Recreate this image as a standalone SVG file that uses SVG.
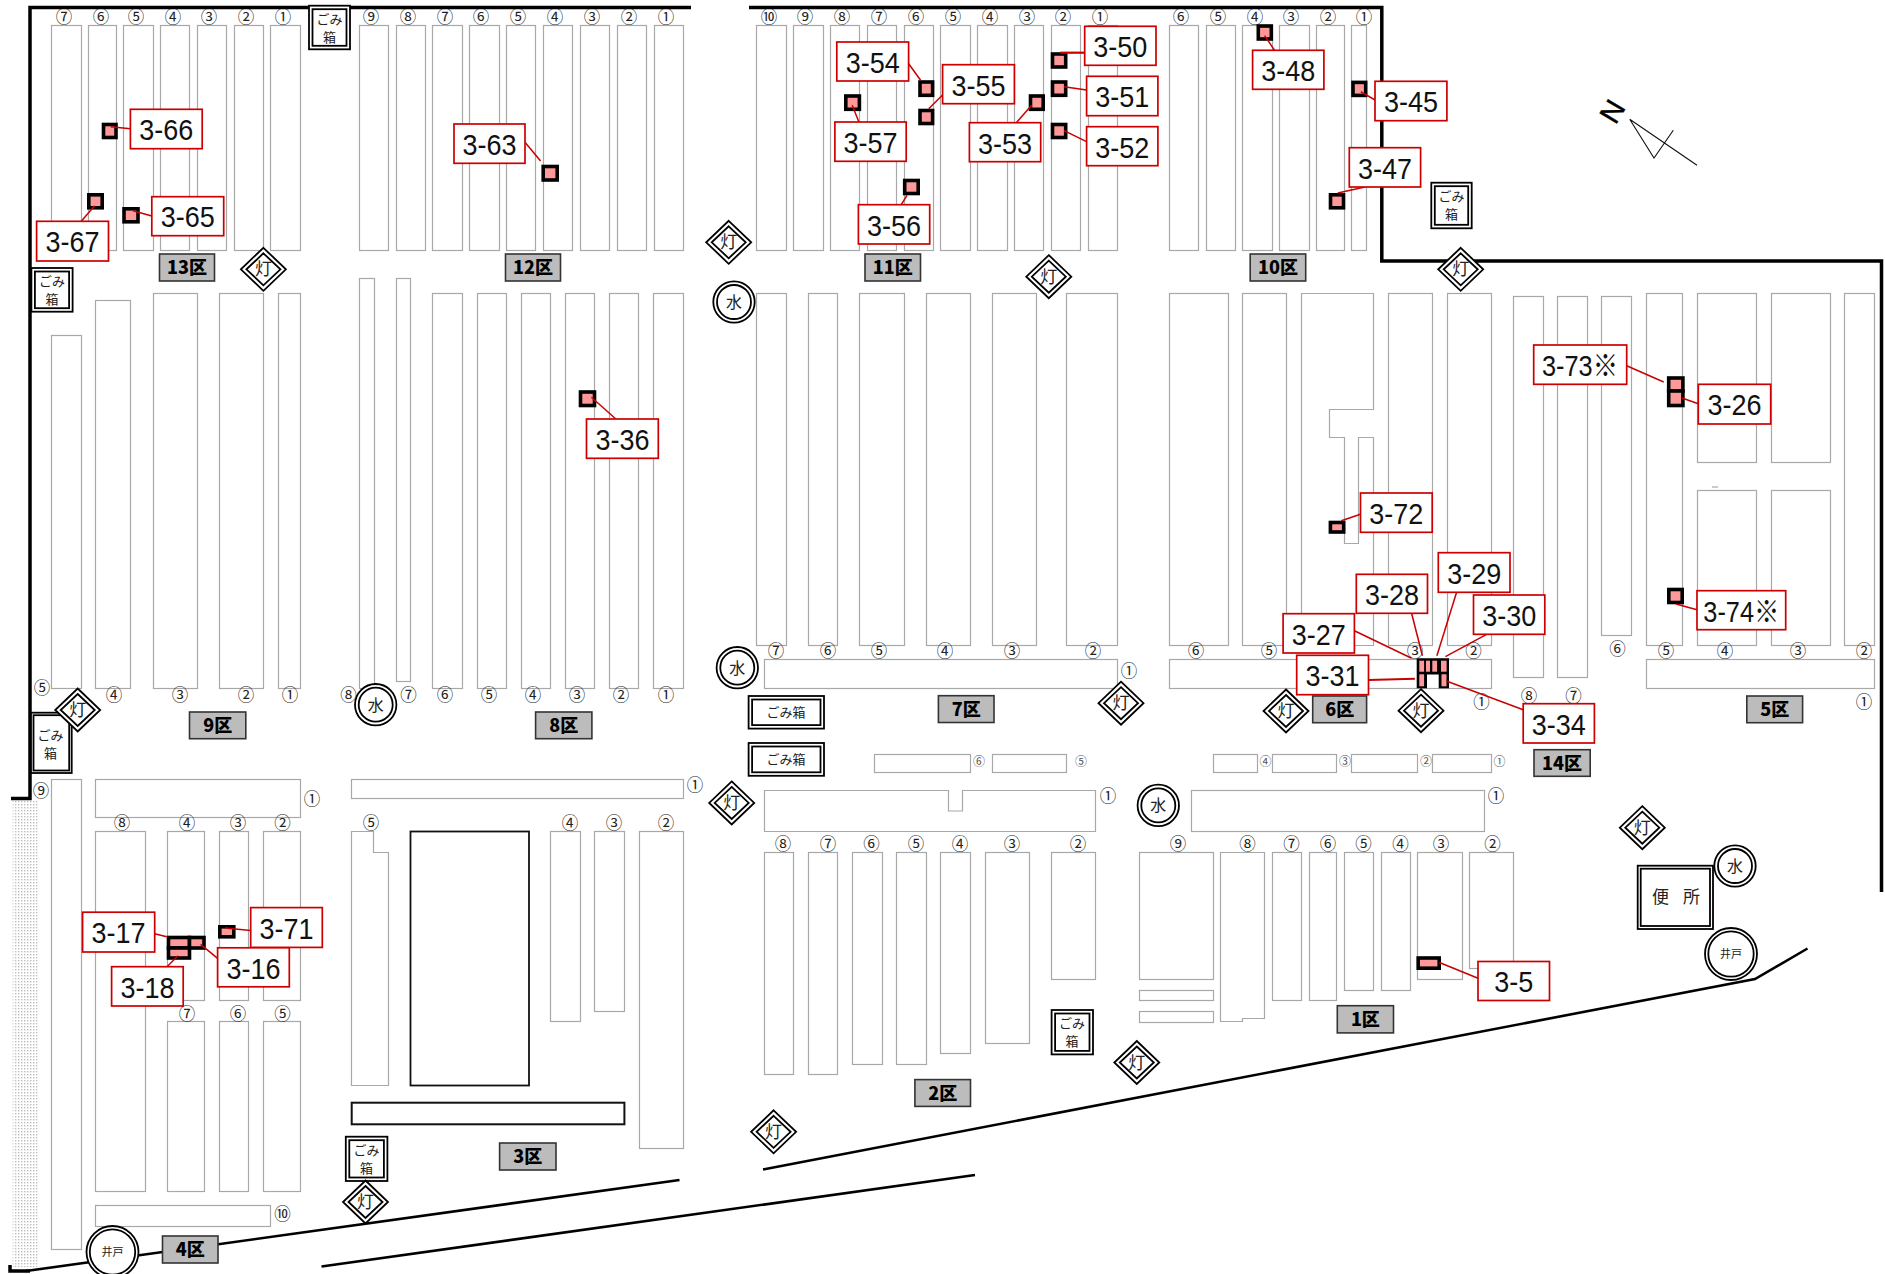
<svg xmlns="http://www.w3.org/2000/svg" width="1885" height="1274" viewBox="0 0 1885 1274">
<style>
text{font-family:"Liberation Sans","Noto Sans CJK JP",sans-serif;text-anchor:middle}
.p rect,.p path{fill:#fff;stroke:#a8a8a8;stroke-width:1.2}
.n text{font-family:"Noto Sans CJK JP",sans-serif;font-size:16.5px;fill:#222;transform:translateY(1px)}
.s text{font-family:"Noto Sans CJK JP",sans-serif;font-size:12px;fill:#555}
.w{fill:none;stroke:#000;stroke-width:3.5}
.r{fill:none;stroke:#000;stroke-width:2.6}
.m{fill:#ff9999;stroke:#000;stroke-width:3.6}
.l{stroke:#c80000;stroke-width:1.5;fill:none}
.b{fill:#fff;stroke:#cc0000;stroke-width:1.7}
.t{font-size:30px;fill:#111;transform:translateY(1px)}
.z rect{fill:#bcbcbc;stroke:#333;stroke-width:1.6}
.z text{font-family:"Noto Sans CJK JP",sans-serif;font-size:18px;font-weight:900;fill:#000}
.d{fill:#fff;stroke:#000;stroke-width:1.8}
.j{font-family:"Noto Sans CJK JP",sans-serif;fill:#222}
.o{fill:none;stroke:#000;stroke-width:1.8}
</style>
<defs>
<pattern id="dots" width="3" height="3" patternUnits="userSpaceOnUse"><rect width="1.4" height="1.4" fill="#bdbdbd"/></pattern>
<g id="lamp"><polygon class="d" points="0,-21.5 22.5,0 0,21.5 -22.5,0"/><polygon class="o" points="0,-16 17,0 0,16 -17,0"/></g>
<g id="water"><circle class="d" r="20.7"/><circle class="o" r="17"/></g>
<g id="well"><circle class="d" r="26"/><circle class="o" r="22.7"/></g>
</defs>
<rect width="1885" height="1274" fill="#fff"/>
<rect x="12.7" y="800" width="25" height="467" fill="url(#dots)"/>

<g id="plots" class="p">
<rect x="51.5" y="25.5" width="30" height="225"/><rect x="88.5" y="25.5" width="28" height="225"/><rect x="123.5" y="25.5" width="30" height="225"/><rect x="160.5" y="25.5" width="29" height="225"/><rect x="197.5" y="25.5" width="29" height="225"/><rect x="234.5" y="25.5" width="29" height="225"/><rect x="270.5" y="25.5" width="30" height="225"/>
<rect x="359.5" y="25.5" width="29" height="225"/><rect x="396.5" y="25.5" width="29" height="225"/><rect x="432.5" y="25.5" width="30" height="225"/><rect x="469.5" y="25.5" width="30" height="225"/><rect x="506.5" y="25.5" width="29" height="225"/><rect x="543.5" y="25.5" width="29" height="225"/><rect x="580.5" y="25.5" width="29" height="225"/><rect x="617.5" y="25.5" width="29" height="225"/><rect x="654.5" y="25.5" width="29" height="225"/>
<rect x="756.5" y="25.5" width="30" height="225"/><rect x="793.5" y="25.5" width="30" height="225"/><rect x="830.5" y="25.5" width="29" height="225"/><rect x="867.5" y="25.5" width="29" height="225"/><rect x="904.5" y="25.5" width="29" height="225"/><rect x="940.5" y="25.5" width="30" height="225"/><rect x="977.5" y="25.5" width="30" height="225"/><rect x="1014.5" y="25.5" width="29" height="225"/><rect x="1051.5" y="25.5" width="29" height="225"/><rect x="1088.5" y="25.5" width="29" height="225"/>
<rect x="1169.5" y="25.5" width="29" height="225"/><rect x="1206.5" y="25.5" width="29" height="225"/><rect x="1242.5" y="25.5" width="30" height="225"/><rect x="1279.5" y="25.5" width="30" height="225"/><rect x="1316.5" y="25.5" width="28" height="225"/><rect x="1351.5" y="25.5" width="15" height="225"/>

<rect x="51.5" y="335.5" width="30" height="353"/><rect x="95.5" y="300.5" width="35" height="388"/><rect x="153.5" y="293.5" width="44" height="395"/><rect x="219.5" y="293.5" width="44" height="395"/><rect x="278.5" y="293.5" width="22" height="395"/>
<rect x="359.5" y="278.5" width="15" height="410"/><rect x="396.5" y="278.5" width="14" height="403"/><rect x="432.5" y="293.5" width="30" height="395"/><rect x="477.5" y="293.5" width="29" height="395"/><rect x="521.5" y="293.5" width="29" height="395"/><rect x="565.5" y="293.5" width="29" height="395"/><rect x="609.5" y="293.5" width="29" height="395"/><rect x="653.5" y="293.5" width="30" height="395"/>

<rect x="756.5" y="293.5" width="30" height="352"/><rect x="808.5" y="293.5" width="29" height="352"/><rect x="859.5" y="293.5" width="45" height="352"/><rect x="926.5" y="293.5" width="44" height="352"/><rect x="992.5" y="293.5" width="44" height="352"/><rect x="1066.5" y="293.5" width="51" height="352"/>
<rect x="1169.5" y="293.5" width="59" height="352"/><rect x="1242.5" y="293.5" width="44" height="352"/>
<path d="M1301.5 293.5V645.5H1373.5V437.5H1358.5V543.5H1344.5V437.5H1329.5V409.5H1373.5V293.5Z"/>
<rect x="1388.5" y="293.5" width="44" height="352"/><rect x="1447.5" y="293.5" width="44" height="352"/>
<rect x="1513.5" y="296.5" width="30" height="381"/><rect x="1557.5" y="296.5" width="30" height="381"/><rect x="1601.5" y="296.5" width="30" height="339"/>
<rect x="1646.5" y="293.5" width="36" height="352"/>
<rect x="1697.5" y="293.5" width="59" height="169"/><rect x="1771.5" y="293.5" width="59" height="169"/><rect x="1697.5" y="490.5" width="59" height="155"/><rect x="1771.5" y="490.5" width="59" height="155"/>
<rect x="1844.5" y="293.5" width="30" height="352"/>
<path d="M1712 487h6"/>

<rect x="764.5" y="659.5" width="353" height="29"/><rect x="1169.5" y="659.5" width="322" height="29"/><rect x="1646.5" y="659.5" width="228" height="29"/>
<rect x="874.5" y="754.5" width="96" height="18"/><rect x="992.5" y="754.5" width="74" height="18"/><rect x="1213.5" y="754.5" width="44" height="18"/><rect x="1272.5" y="754.5" width="64" height="18"/><rect x="1351.5" y="754.5" width="66" height="18"/><rect x="1432.5" y="754.5" width="59" height="18"/>
<path d="M764.5 790.5H948.5V811H962.5V790.5H1095.5V831.5H764.5Z"/>
<rect x="1191.5" y="790.5" width="293" height="41"/>
<rect x="764.5" y="852.5" width="29" height="222"/><rect x="808.5" y="852.5" width="29" height="222"/><rect x="852.5" y="852.5" width="30" height="212"/><rect x="896.5" y="852.5" width="30" height="212"/><rect x="940.5" y="852.5" width="30" height="201"/><rect x="985.5" y="852.5" width="44" height="191"/><rect x="1051.5" y="852.5" width="44" height="127"/>
<rect x="1139.5" y="852.5" width="74" height="127"/><rect x="1139.5" y="990.5" width="74" height="10"/><rect x="1139.5" y="1011.5" width="74" height="11"/>
<path d="M1220.5 852.5H1264.5V1018.5H1242.5V1021.5H1220.5Z"/>
<rect x="1272.5" y="852.5" width="29" height="148"/><rect x="1309.5" y="852.5" width="27" height="148"/><rect x="1344.5" y="852.5" width="29" height="138"/><rect x="1381.5" y="852.5" width="29" height="138"/><rect x="1417.5" y="852.5" width="45" height="127"/><rect x="1469.5" y="852.5" width="44" height="116"/>

<rect x="51.5" y="779.5" width="30" height="470"/><rect x="95.5" y="779.5" width="205" height="38"/><rect x="95.5" y="831.5" width="50" height="360"/><rect x="167.5" y="831.5" width="37" height="169"/><rect x="219.5" y="831.5" width="29" height="169"/><rect x="263.5" y="831.5" width="37" height="169"/><rect x="167.5" y="1021.5" width="37" height="170"/><rect x="219.5" y="1021.5" width="29" height="170"/><rect x="263.5" y="1021.5" width="37" height="170"/><rect x="95.5" y="1205.5" width="175" height="21"/>
<rect x="351.5" y="779.5" width="332" height="19"/>
<path d="M351.5 831.5H373.5V852.5H388.5V1085.5H351.5Z"/>
<rect x="550.5" y="831.5" width="30" height="190"/><rect x="594.5" y="831.5" width="30" height="180"/><rect x="639.5" y="831.5" width="44" height="317"/>
</g>
<g id="buildings">
<rect x="410.5" y="831.5" width="118.5" height="254" fill="#fff" stroke="#111" stroke-width="1.8"/>
<rect x="351.7" y="1102.7" width="272.7" height="21.6" fill="#fff" stroke="#111" stroke-width="2"/>
</g>

<g id="plot-numbers" class="n">
<text x="64" y="22">⑦</text><text x="101" y="22">⑥</text><text x="136" y="22">⑤</text><text x="173" y="22">④</text><text x="209" y="22">③</text><text x="246" y="22">②</text><text x="283" y="22">①</text>
<text x="371" y="22">⑨</text><text x="408" y="22">⑧</text><text x="445" y="22">⑦</text><text x="481" y="22">⑥</text><text x="518" y="22">⑤</text><text x="555" y="22">④</text><text x="592" y="22">③</text><text x="629" y="22">②</text><text x="666" y="22">①</text>
<text x="769" y="22">⑩</text><text x="805" y="22">⑨</text><text x="842" y="22">⑧</text><text x="879" y="22">⑦</text><text x="916" y="22">⑥</text><text x="953" y="22">⑤</text><text x="990" y="22">④</text><text x="1027" y="22">③</text><text x="1063" y="22">②</text><text x="1100" y="22">①</text>
<text x="1181" y="22">⑥</text><text x="1218" y="22">⑤</text><text x="1255" y="22">④</text><text x="1291" y="22">③</text><text x="1328" y="22">②</text><text x="1364" y="22">①</text>
<text x="42" y="693">⑤</text><text x="114" y="700">④</text><text x="180" y="700">③</text><text x="246" y="700">②</text><text x="290" y="700">①</text><text x="348.5" y="700">⑧</text><text x="408.5" y="700">⑦</text><text x="445" y="700">⑥</text><text x="489" y="700">⑤</text><text x="533" y="700">④</text><text x="577" y="700">③</text><text x="621" y="700">②</text><text x="666" y="700">①</text>
<text x="776" y="656">⑦</text><text x="828" y="656">⑥</text><text x="879" y="656">⑤</text><text x="945" y="656">④</text><text x="1012" y="656">③</text><text x="1093" y="656">②</text><text x="1129" y="676">①</text>
<text x="1196" y="656">⑥</text><text x="1269" y="656">⑤</text><text x="1415" y="656">③</text><text x="1473.5" y="656">②</text><text x="1481.5" y="707">①</text>
<text x="1529" y="700.5">⑧</text><text x="1573.5" y="700.5">⑦</text><text x="1617.5" y="654">⑥</text><text x="1666" y="656">⑤</text><text x="1725" y="656">④</text><text x="1798" y="656">③</text><text x="1864" y="656">②</text><text x="1864" y="707">①</text>
<text x="1108" y="801">①</text><text x="1496" y="801">①</text>
<text x="783" y="849">⑧</text><text x="828" y="849">⑦</text><text x="871.5" y="849">⑥</text><text x="916" y="849">⑤</text><text x="960" y="849">④</text><text x="1012" y="849">③</text><text x="1078" y="849">②</text>
<text x="1178" y="849">⑨</text><text x="1247.5" y="849">⑧</text><text x="1291.5" y="849">⑦</text><text x="1328" y="849">⑥</text><text x="1363.5" y="849">⑤</text><text x="1400.5" y="849">④</text><text x="1441" y="849">③</text><text x="1492.5" y="849">②</text>
<text x="41" y="796">⑨</text><text x="312" y="804">①</text><text x="122" y="828">⑧</text><text x="187" y="828">④</text><text x="238" y="828">③</text><text x="282.5" y="828">②</text><text x="187" y="1019">⑦</text><text x="238" y="1019">⑥</text><text x="282.5" y="1019">⑤</text><text x="282.5" y="1219">⑩</text>
<text x="695" y="790">①</text><text x="371" y="828">⑤</text><text x="570" y="828">④</text><text x="614" y="828">③</text><text x="666" y="828">②</text>
</g>
<g id="small-numbers" class="s">
<text x="979" y="766">⑥</text><text x="1081" y="766">⑤</text><text x="1265.5" y="766">④</text><text x="1345" y="766">③</text><text x="1426" y="766">②</text><text x="1499.5" y="766">①</text>
</g>

<g id="walls-roads">
<path class="w" d="M691 7.5H30V798.5H11"/>
<path class="w" d="M749 7.5H1381.8V261H1881.5V892"/>
<path class="w" d="M10 1265V1271H30"/>
<path class="r" d="M26 1271L679.5 1180"/>
<path class="r" d="M321.5 1266.5L975 1175"/>
<path class="r" d="M763 1169.5L1755 979L1807.5 948.5"/>
</g>

<g id="compass">
<path d="M1629.7 119.3L1654 158L1673.3 130.3M1629.7 119.3L1697 165.3" fill="none" stroke="#111" stroke-width="1.1"/>
<text transform="translate(1612 111) rotate(-59)" y="10.5" font-size="29" fill="#000" stroke="#000" stroke-width=".5">N</text>
</g>

<g id="bins" >
<g id="bin-1"><rect x="309" y="5.7" width="41" height="43.6" class="d"/><rect x="312.5" y="9.2" width="34" height="36.6" class="o"/><text class="j" font-size="13" x="329.5" y="24">ごみ</text><text class="j" font-size="13" x="329.5" y="42">箱</text></g>
<g id="bin-2"><rect x="31.4" y="268" width="41.2" height="43.7" class="d"/><rect x="34.9" y="271.5" width="34.2" height="36.7" class="o"/><text class="j" font-size="13" x="52" y="286">ごみ</text><text class="j" font-size="13" x="52" y="304">箱</text></g>
<g id="bin-3"><rect x="31" y="712.7" width="40.7" height="60.3" class="d"/><rect x="33.5" y="715.2" width="35.7" height="55.3" class="o"/><text class="j" font-size="13" x="50.5" y="740">ごみ</text><text class="j" font-size="13" x="50.5" y="758">箱</text></g>
<g id="bin-4"><rect x="1431.3" y="182.7" width="40.4" height="45.6" class="d"/><rect x="1434.8" y="186.2" width="33.4" height="38.6" class="o"/><text class="j" font-size="13" x="1451.5" y="201">ごみ</text><text class="j" font-size="13" x="1451.5" y="219">箱</text></g>
<g id="bin-5"><rect x="748.6" y="696" width="75.4" height="32.6" class="d"/><rect x="752.1" y="699.5" width="68.4" height="25.6" class="o"/><text class="j" font-size="13" x="786" y="717">ごみ箱</text></g>
<g id="bin-6"><rect x="748.6" y="743" width="75.4" height="32.8" class="d"/><rect x="752.1" y="746.5" width="68.4" height="25.8" class="o"/><text class="j" font-size="13" x="786" y="764">ごみ箱</text></g>
<g id="bin-7"><rect x="1051.6" y="1010" width="41.4" height="44.4" class="d"/><rect x="1055.1" y="1013.5" width="34.4" height="37.4" class="o"/><text class="j" font-size="13" x="1072" y="1028">ごみ</text><text class="j" font-size="13" x="1072" y="1046">箱</text></g>
<g id="bin-8"><rect x="345.8" y="1136.7" width="41.6" height="44.3" class="d"/><rect x="349.3" y="1140.2" width="34.6" height="37.3" class="o"/><text class="j" font-size="13" x="366.5" y="1155">ごみ</text><text class="j" font-size="13" x="366.5" y="1173">箱</text></g>
</g>

<g id="toilet"><rect x="1637.7" y="865.7" width="75.3" height="63.3" class="d"/><rect x="1640.7" y="868.7" width="69.3" height="57.3" class="o"/><text class="j" font-size="17" x="1676" y="903" word-spacing="10">便 所</text></g>

<g id="lamps">
<g id="lamp-1" transform="translate(263.4 269.3)"><use href="#lamp"/><text class="j" font-size="17" y="6">灯</text></g>
<g id="lamp-2" transform="translate(77.7 710)"><use href="#lamp"/><text class="j" font-size="17" y="6">灯</text></g>
<g id="lamp-3" transform="translate(728.7 242.3)"><use href="#lamp"/><text class="j" font-size="17" y="6">灯</text></g>
<g id="lamp-4" transform="translate(1048.8 276.7)"><use href="#lamp"/><text class="j" font-size="17" y="6">灯</text></g>
<g id="lamp-5" transform="translate(1460.7 269.3)"><use href="#lamp"/><text class="j" font-size="17" y="6">灯</text></g>
<g id="lamp-6" transform="translate(1121 703.2)"><use href="#lamp"/><text class="j" font-size="17" y="6">灯</text></g>
<g id="lamp-7" transform="translate(1286 711)"><use href="#lamp"/><text class="j" font-size="17" y="6">灯</text></g>
<g id="lamp-8" transform="translate(1421 710.7)"><use href="#lamp"/><text class="j" font-size="17" y="6">灯</text></g>
<g id="lamp-9" transform="translate(731.7 802.9)"><use href="#lamp"/><text class="j" font-size="17" y="6">灯</text></g>
<g id="lamp-10" transform="translate(1136.8 1062.5)"><use href="#lamp"/><text class="j" font-size="17" y="6">灯</text></g>
<g id="lamp-11" transform="translate(773.6 1131.8)"><use href="#lamp"/><text class="j" font-size="17" y="6">灯</text></g>
<g id="lamp-12" transform="translate(365.5 1202)"><use href="#lamp"/><text class="j" font-size="17" y="6">灯</text></g>
<g id="lamp-13" transform="translate(1642.3 827.7)"><use href="#lamp"/><text class="j" font-size="17" y="6">灯</text></g>
</g>

<g id="taps">
<g id="water-1" transform="translate(375.7 704.7)"><use href="#water"/><text class="j" font-size="16" y="6">水</text></g>
<g id="water-2" transform="translate(734 302)"><use href="#water"/><text class="j" font-size="16" y="6">水</text></g>
<g id="water-3" transform="translate(737.3 667.7)"><use href="#water"/><text class="j" font-size="16" y="6">水</text></g>
<g id="water-4" transform="translate(1158.3 805.4)"><use href="#water"/><text class="j" font-size="16" y="6">水</text></g>
<g id="water-5" transform="translate(1735 866)"><use href="#water"/><text class="j" font-size="16" y="6">水</text></g>
<g id="well-1" transform="translate(112.5 1252)"><use href="#well"/><text class="j" font-size="11" y="4">井戸</text></g>
<g id="well-2" transform="translate(1731 954)"><use href="#well"/><text class="j" font-size="11" y="4">井戸</text></g>
</g>

<g id="zones" class="z">
<g id="zone-13"><rect x="159.5" y="254" width="55" height="27"/><text x="187" y="274">13区</text></g>
<g id="zone-12"><rect x="505.5" y="254" width="55" height="27"/><text x="533" y="274">12区</text></g>
<g id="zone-11"><rect x="865" y="254" width="55.5" height="27"/><text x="892.7" y="274">11区</text></g>
<g id="zone-10"><rect x="1250.2" y="254" width="55.5" height="27"/><text x="1278" y="274">10区</text></g>
<g id="zone-9"><rect x="189.5" y="712" width="56.3" height="26.7"/><text x="217.7" y="732">9区</text></g>
<g id="zone-8"><rect x="535.6" y="712" width="56.3" height="26.7"/><text x="563.7" y="732">8区</text></g>
<g id="zone-7"><rect x="938.4" y="695.7" width="55.6" height="26.8"/><text x="966.2" y="716">7区</text></g>
<g id="zone-6"><rect x="1312.7" y="696" width="53.9" height="26.7"/><text x="1339.7" y="716">6区</text></g>
<g id="zone-5"><rect x="1746.8" y="696" width="55.8" height="26.7"/><text x="1774.7" y="716">5区</text></g>
<g id="zone-14"><rect x="1534" y="749.7" width="56.2" height="26.6"/><text x="1562" y="770">14区</text></g>
<g id="zone-1"><rect x="1337.3" y="1005.7" width="56.2" height="27.2"/><text x="1365.4" y="1026">1区</text></g>
<g id="zone-2"><rect x="914.9" y="1079.6" width="55.6" height="26.8"/><text x="942.7" y="1100">2区</text></g>
<g id="zone-3"><rect x="499.6" y="1143" width="56.4" height="27"/><text x="527.8" y="1163">3区</text></g>
<g id="zone-4"><rect x="162.5" y="1236" width="55.5" height="27"/><text x="190.3" y="1256">4区</text></g>
</g>

<g id="markers">
<rect class="m" x="103.5" y="124.5" width="12.5" height="13"/>
<rect class="m" x="88.8" y="194.8" width="13.4" height="13"/>
<rect class="m" x="124" y="208.8" width="14" height="13"/>
<rect class="m" x="543.2" y="166.5" width="14" height="13.5"/>
<rect class="m" x="580.5" y="392" width="14" height="13.5"/>
<rect class="m" x="920" y="82" width="12.6" height="13.3"/>
<rect class="m" x="920" y="110.5" width="12.6" height="13"/>
<rect class="m" x="1052.5" y="54" width="13.2" height="13"/>
<rect class="m" x="1052.5" y="82" width="13.2" height="13.3"/>
<rect class="m" x="1052.5" y="124.5" width="13.2" height="13"/>
<rect class="m" x="1030.5" y="96" width="12.7" height="13.3"/>
<rect class="m" x="845.8" y="96" width="13.6" height="13.3"/>
<rect class="m" x="904.7" y="180.5" width="13.5" height="13"/>
<rect class="m" x="1258.3" y="26" width="13" height="13"/>
<rect class="m" x="1353" y="82.4" width="12.7" height="13"/>
<rect class="m" x="1330.5" y="194.8" width="13" height="13"/>
<rect class="m" x="1668.7" y="378" width="14.2" height="13"/>
<rect class="m" x="1668.7" y="391" width="14.2" height="14.5"/>
<rect class="m" x="1668.8" y="589.5" width="13.4" height="13"/>
<rect class="m" x="1330.4" y="522.5" width="13.3" height="9.5"/>
<rect class="m" x="1418.2" y="958" width="21" height="10.2"/>
<rect class="m" x="168.5" y="937.5" width="21" height="10.5"/>
<rect class="m" x="189.5" y="937.5" width="14.5" height="10.5"/>
<rect class="m" x="168.5" y="948" width="21" height="10"/>
<rect class="m" x="219.8" y="926.8" width="14" height="10"/>
<g id="marker-comb">
<path fill="#000" d="M1416.7 658.3H1449V688.3H1438.7V674.5H1427V688.3H1416.7Z"/>
<g fill="#ff9999"><rect x="1419.3" y="660.7" width="4.8" height="11"/><rect x="1426" y="660.7" width="4" height="11"/><rect x="1432.3" y="660.7" width="4.8" height="11"/><rect x="1441" y="660.7" width="5.6" height="11"/><rect x="1419.3" y="674.3" width="4.8" height="12"/><rect x="1441.5" y="674.3" width="5" height="12"/></g>
</g>
</g>

<g id="connectors" class="l">
<path d="M110.7 126.7L130.4 128.7"/><path d="M94.6 205.7L81.3 221.3"/><path d="M133 210.7L151.8 216"/><path d="M525 142.3L540.6 161"/><path d="M591.4 397.3L615.6 418.7"/>
<path d="M906.7 61L920.6 80.3"/><path d="M942.6 95L928.7 108.7"/><path d="M1060.3 52.7H1084.7" stroke-width="2.2"/><path d="M1064 86.7L1086.6 90"/><path d="M1064 130.7L1086.6 141.7"/><path d="M1031.6 105.3L1016.7 122.3"/><path d="M852.2 105.3L858.9 122"/><path d="M907 195.3L901.4 204.3"/><path d="M1264.6 35.7L1274.6 50.3"/><path d="M1360.8 91.7L1375 100"/><path d="M1337.8 193L1365 187"/>
<path d="M1626.7 365.7L1663.7 382"/><path d="M1682 398L1698.3 403.7"/><path d="M1676 604L1697 609.7"/><path d="M1341.3 520.7L1360.5 514.3"/>
<path d="M1354.4 630.7L1411.6 658.3"/><path d="M1411.6 613.3L1422.4 655.7"/><path d="M1456.6 592.3L1436.9 655.7"/><path d="M1486.6 634.3L1445.4 656.7"/><path d="M1368.5 680L1414.9 678.7" stroke-width="1.9"/><path d="M1446.3 681L1523.2 709.7"/>
<path d="M1439.4 962.5L1478 978.2"/><path d="M154.7 933.8L166.7 936.8"/><path d="M225 928L250.7 930.4"/><path d="M200.6 944.4L217.6 958.4"/><path d="M178 955.8L167 966.7"/>
</g>

<g id="labels">
<g id="L3-66"><rect class="b" x="130.4" y="109.3" width="71.8" height="39.4"/><text class="t" x="166.3" y="139" textLength="54" lengthAdjust="spacingAndGlyphs">3-66</text></g>
<g id="L3-67"><rect class="b" x="36.6" y="221.3" width="71.9" height="39.7"/><text class="t" x="72.5" y="251" textLength="54" lengthAdjust="spacingAndGlyphs">3-67</text></g>
<g id="L3-65"><rect class="b" x="151.8" y="196.7" width="71.9" height="39"/><text class="t" x="187.7" y="226" textLength="54" lengthAdjust="spacingAndGlyphs">3-65</text></g>
<g id="L3-63"><rect class="b" x="454" y="124" width="71" height="39.3"/><text class="t" x="489.5" y="154" textLength="54" lengthAdjust="spacingAndGlyphs">3-63</text></g>
<g id="L3-36"><rect class="b" x="586.5" y="419" width="71.8" height="39.3"/><text class="t" x="622.4" y="449" textLength="54" lengthAdjust="spacingAndGlyphs">3-36</text></g>
<g id="L3-54"><rect class="b" x="836.8" y="42" width="71.8" height="39"/><text class="t" x="872.7" y="72" textLength="54" lengthAdjust="spacingAndGlyphs">3-54</text></g>
<g id="L3-55"><rect class="b" x="942.6" y="64.7" width="71.8" height="39"/><text class="t" x="978.5" y="94.5" textLength="54" lengthAdjust="spacingAndGlyphs">3-55</text></g>
<g id="L3-50"><rect class="b" x="1084.7" y="26.3" width="71.3" height="39"/><text class="t" x="1120.3" y="56" textLength="54" lengthAdjust="spacingAndGlyphs">3-50</text></g>
<g id="L3-51"><rect class="b" x="1086.6" y="76.3" width="71.3" height="39.4"/><text class="t" x="1122.2" y="106" textLength="54" lengthAdjust="spacingAndGlyphs">3-51</text></g>
<g id="L3-52"><rect class="b" x="1086.6" y="126.7" width="71.3" height="39"/><text class="t" x="1122.2" y="156.5" textLength="54" lengthAdjust="spacingAndGlyphs">3-52</text></g>
<g id="L3-48"><rect class="b" x="1252.6" y="50.3" width="71.3" height="39"/><text class="t" x="1288.2" y="80" textLength="54" lengthAdjust="spacingAndGlyphs">3-48</text></g>
<g id="L3-45"><rect class="b" x="1375" y="81.3" width="71.9" height="39.4"/><text class="t" x="1411" y="111" textLength="54" lengthAdjust="spacingAndGlyphs">3-45</text></g>
<g id="L3-47"><rect class="b" x="1349.3" y="147.7" width="71.3" height="39.3"/><text class="t" x="1385" y="177.5" textLength="54" lengthAdjust="spacingAndGlyphs">3-47</text></g>
<g id="L3-57"><rect class="b" x="834.9" y="122" width="71.3" height="39.3"/><text class="t" x="870.5" y="152" textLength="54" lengthAdjust="spacingAndGlyphs">3-57</text></g>
<g id="L3-53"><rect class="b" x="969.4" y="122.7" width="71.3" height="39"/><text class="t" x="1005" y="152.5" textLength="54" lengthAdjust="spacingAndGlyphs">3-53</text></g>
<g id="L3-56"><rect class="b" x="858.4" y="204.7" width="71.3" height="39.3"/><text class="t" x="894" y="234.5" textLength="54" lengthAdjust="spacingAndGlyphs">3-56</text></g>
<g id="L3-72"><rect class="b" x="1360.5" y="493" width="71.7" height="39.3"/><text class="t" x="1396.3" y="523" textLength="54" lengthAdjust="spacingAndGlyphs">3-72</text></g>
<g id="L3-29"><rect class="b" x="1438.3" y="552.7" width="71.7" height="39.6"/><text class="t" x="1474.2" y="583" textLength="54" lengthAdjust="spacingAndGlyphs">3-29</text></g>
<g id="L3-28"><rect class="b" x="1356.3" y="574.3" width="71.2" height="39"/><text class="t" x="1392" y="604" textLength="54" lengthAdjust="spacingAndGlyphs">3-28</text></g>
<g id="L3-30"><rect class="b" x="1473.5" y="595" width="71.3" height="39.3"/><text class="t" x="1509.2" y="625" textLength="54" lengthAdjust="spacingAndGlyphs">3-30</text></g>
<g id="L3-27"><rect class="b" x="1283.1" y="613.7" width="71.3" height="39.3"/><text class="t" x="1318.8" y="643.5" textLength="54" lengthAdjust="spacingAndGlyphs">3-27</text></g>
<g id="L3-31"><rect class="b" x="1296.7" y="655.3" width="71.8" height="39.4"/><text class="t" x="1332.6" y="685" textLength="54" lengthAdjust="spacingAndGlyphs">3-31</text></g>
<g id="L3-34"><rect class="b" x="1523.2" y="703.7" width="71.2" height="39.3"/><text class="t" x="1558.8" y="733.5" textLength="54" lengthAdjust="spacingAndGlyphs">3-34</text></g>
<g id="L3-74"><rect class="b" x="1697" y="590.7" width="88.7" height="39"/><text class="t" x="1741.3" y="620.5" textLength="76" lengthAdjust="spacingAndGlyphs">3-74※</text></g>
<g id="L3-73"><rect class="b" x="1533.7" y="345" width="93" height="39.3"/><text class="t" x="1580" y="375" textLength="76" lengthAdjust="spacingAndGlyphs">3-73※</text></g>
<g id="L3-26"><rect class="b" x="1698.3" y="384.3" width="72.4" height="39.7"/><text class="t" x="1734.5" y="414" textLength="54" lengthAdjust="spacingAndGlyphs">3-26</text></g>
<g id="L3-17"><rect class="b" x="82.6" y="912.2" width="72.1" height="39.8"/><text class="t" x="118.6" y="942" textLength="54" lengthAdjust="spacingAndGlyphs">3-17</text></g>
<g id="L3-71"><rect class="b" x="250.7" y="907.6" width="71.6" height="39.8"/><text class="t" x="286.5" y="937.5" textLength="54" lengthAdjust="spacingAndGlyphs">3-71</text></g>
<g id="L3-16"><rect class="b" x="217.6" y="947.8" width="71.7" height="39"/><text class="t" x="253.4" y="977.5" textLength="54" lengthAdjust="spacingAndGlyphs">3-16</text></g>
<g id="L3-18"><rect class="b" x="111.6" y="966.7" width="71.6" height="39.3"/><text class="t" x="147.4" y="996.5" textLength="54" lengthAdjust="spacingAndGlyphs">3-18</text></g>
<g id="L3-5"><rect class="b" x="1478" y="961.5" width="71.5" height="39"/><text class="t" x="1513.7" y="991" textLength="39" lengthAdjust="spacingAndGlyphs">3-5</text></g>
</g>
</svg>
